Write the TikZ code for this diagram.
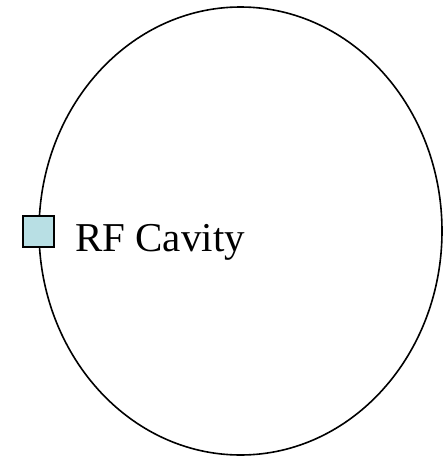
\documentclass[tikz,border=0pt]{standalone}
\usepackage{fontspec}
\setmainfont{Liberation Serif}
\usetikzlibrary{shapes.geometric}
\definecolor{cavcyan}{RGB}{184,223,228}
\tikzset{
  ring/.style={draw, ellipse, line width=1.6pt, inner sep=0pt, minimum width=403pt, minimum height=448pt},
  cavbox/.style={draw, fill=cavcyan, line width=2.2pt, inner sep=0pt, minimum size=31pt},
  lbl/.style={font=\fontsize{41}{45}\selectfont, inner sep=0pt}
}
\begin{document}
\begin{tikzpicture}[x=1pt,y=-1pt]
  \useasboundingbox (0,0) rectangle (446,458);
  \node[ring] (ring) at (240.5,231) {};
  \node[cavbox] (cavity) at (38.5,231.5) {};
  \node[lbl, anchor=base west] (cavlabel) at (75,251) {RF Cavity};
\end{tikzpicture}
\end{document}
